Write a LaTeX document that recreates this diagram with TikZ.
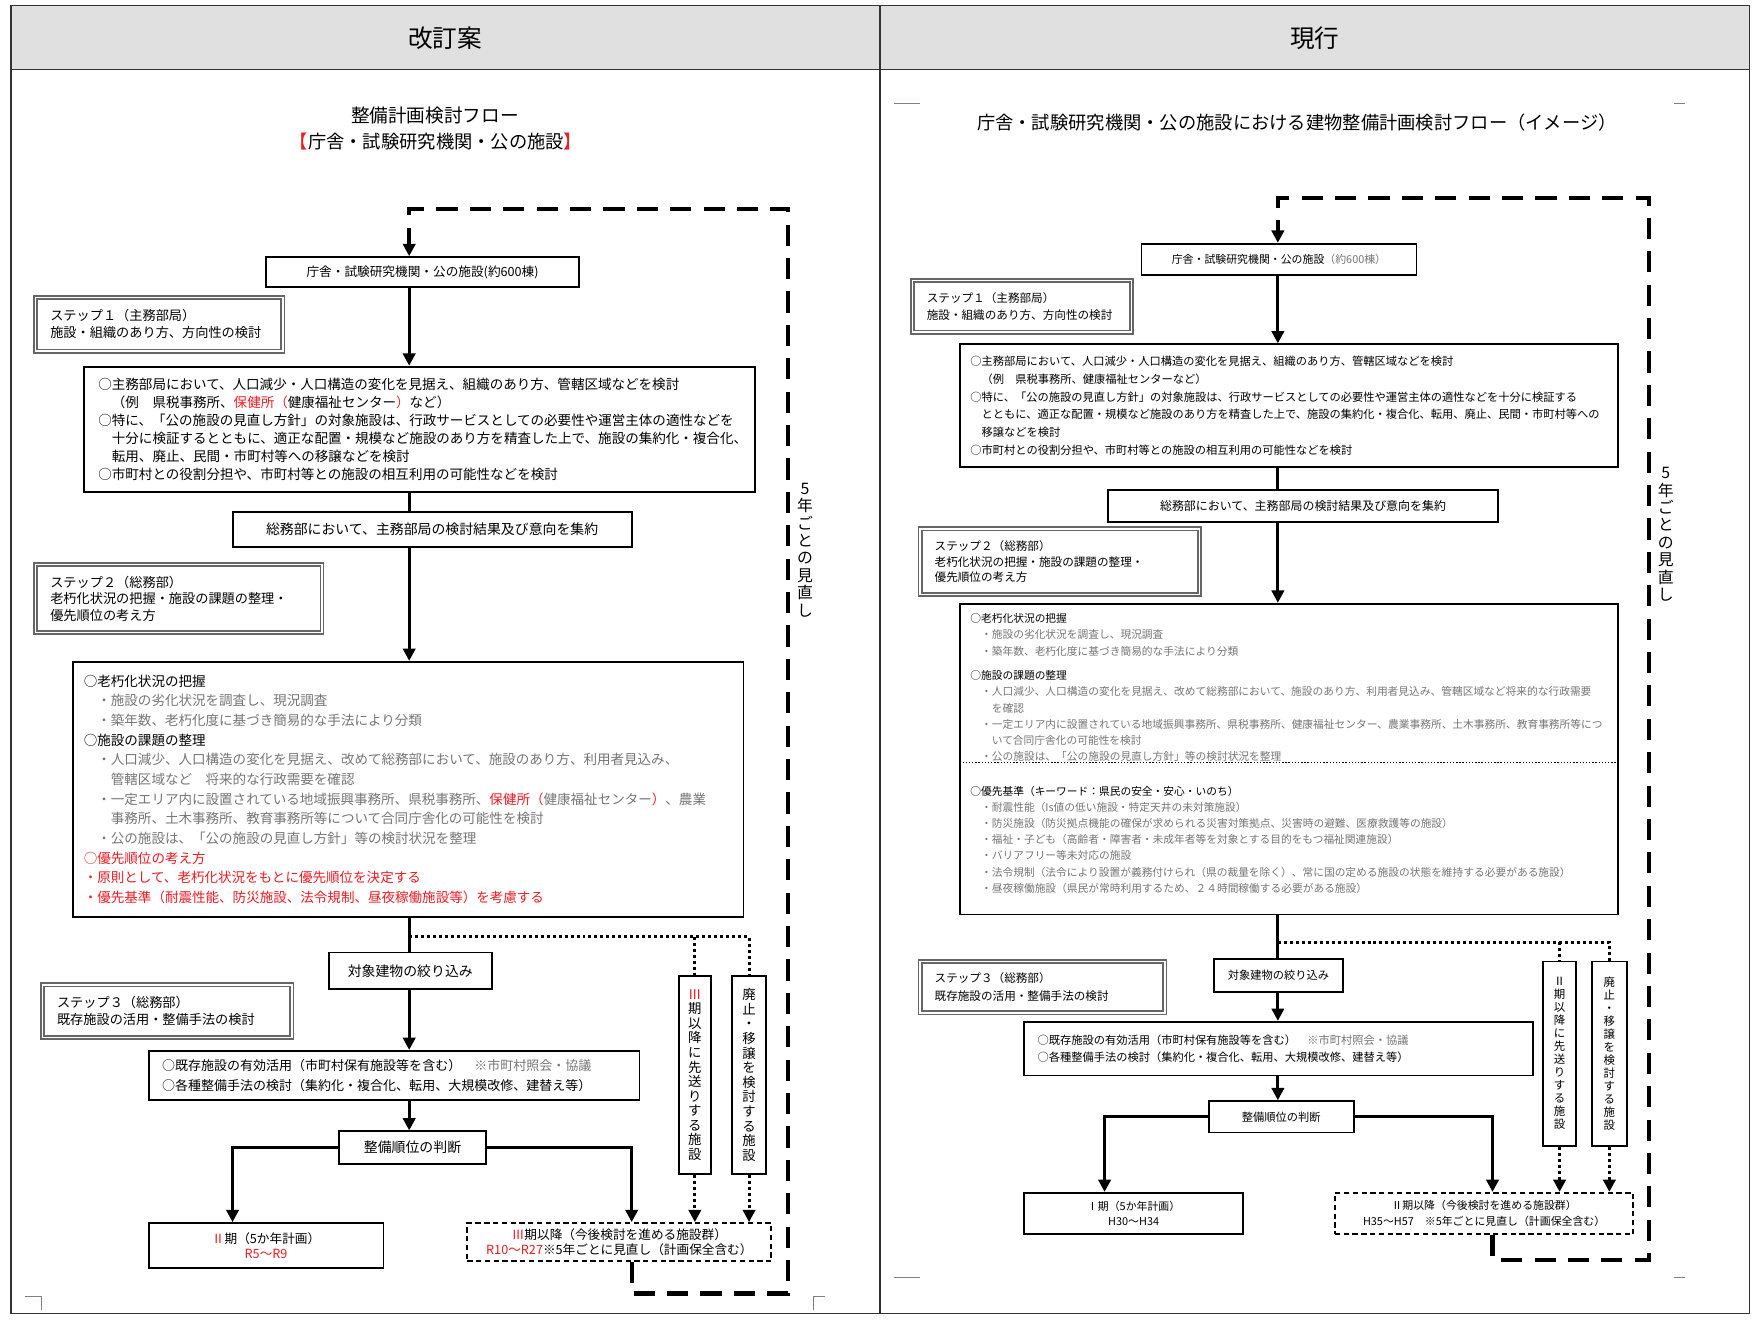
\documentclass[tikz,border=0pt]{standalone}
\usepackage{fontspec}
\setmainfont{Noto Sans CJK JP}
\usetikzlibrary{arrows.meta,positioning}
\definecolor{hdrgray}{RGB}{224,224,224}
\definecolor{txtgray}{RGB}{118,118,118}
\definecolor{redmark}{RGB}{236,28,36}
\newlength{\pxu}\setlength{\pxu}{0.02236cm}
\newcommand{\fsz}[2]{\fontsize{#1pt}{#2pt}\selectfont}
\newcommand{\rd}[1]{\textcolor{redmark}{#1}}
\newcommand{\gr}[1]{\textcolor{txtgray}{#1}}
\tikzstyle{box}=[draw,line width=1.1pt,inner sep=0pt,align=center]
\tikzstyle{textbox}=[box,align=left]
\tikzstyle{stepbox}=[draw=black!60,double=white,double distance=0.8pt,line width=1pt,inner ysep=0pt,inner xsep=13\pxu,align=left]
\tikzstyle{dashbox}=[box,dash pattern=on 3pt off 2pt]
\tikzstyle{conn}=[line width=1.7pt]
\tikzstyle{arrow}=[conn,-{Triangle[width=7pt,length=7pt]}]
\tikzstyle{loopline}=[line width=2.4pt,dash pattern=on 12pt off 7pt,-{Triangle[width=7pt,length=7pt]}]
\tikzstyle{dotline}=[line width=1.7pt,dash pattern=on 1.7pt off 1.7pt]
\tikzstyle{vlabel}=[align=center,font=\fsz{9}{9.9}]

\begin{document}
\begin{tikzpicture}[x=0.02236cm,y=-0.02236cm]
\useasboundingbox (0,0) rectangle (1568,1180);
\fill[white] (0,0) rectangle (1568,1180);
% table frame
\fill[hdrgray] (10,5) rectangle (1565,62);
\draw[line width=0.9pt,black!80] (10,5) rectangle (1565,1175) (10,62) -- (1565,62) (787,5) -- (787,1175);
\node (headL) [font=\fsz{14}{16}] at (398,34) {改訂案};
\node (headR) [font=\fsz{14}{16}] at (1176,34) {現行};
\draw[black!50,line width=0.6pt] (22,1160) -- (37,1160) -- (37,1172) (728,1172) -- (728,1160) -- (738,1160);
\draw[black!50,line width=0.6pt] (800,93) -- (823,93) (1497,93) -- (1507,93) (800,1143) -- (823,1143) (1497,1143) -- (1507,1143);

% ---- left: revised ----
\node (titL1) [font=\fsz{10.6}{12}] at (389,103) {整備計画検討フロー};
\node (titL2) [font=\fsz{10.4}{12}] at (390,127) {\rd{【}庁舎・試験研究機関・公の施設\rd{】}};
\coordinate (tL) at (366,0);
\node (aL) [box,minimum width=280\pxu,minimum height=27\pxu,font=\fsz{7.2}{9}] at (378,243.5) {庁舎・試験研究機関・公の施設(約600棟)};
\node (s1L) [stepbox,text width=195\pxu,minimum height=48\pxu,font=\fsz{7.5}{9.5}] at (142.5,290) {ステップ１（主務部局）\\施設・組織のあり方、方向性の検討};
\node (bL) [textbox,text width=574\pxu,inner xsep=13\pxu,minimum height=112\pxu,font=\fsz{7.7}{10.3}] at (375,384) {○主務部局において、人口減少・人口構造の変化を見据え、組織のあり方、管轄区域などを検討\\
　（例　県税事務所、\rd{保健所（}健康福祉センター\rd{）}など）\\
○特に、「公の施設の見直し方針」の対象施設は、行政サービスとしての必要性や運営主体の適性などを\\
　十分に検証するとともに、適正な配置・規模など施設のあり方を精査した上で、施設の集約化・複合化、\\
　転用、廃止、民間・市町村等への移譲などを検討\\
○市町村との役割分担や、市町村等との施設の相互利用の可能性などを検討};
\node (cL) [box,minimum width=357\pxu,minimum height=31\pxu,font=\fsz{7.9}{10}] at (386.5,473.5) {総務部において、主務部局の検討結果及び意向を集約};
\node (s2L) [stepbox,text width=230\pxu,minimum height=61\pxu,font=\fsz{7.5}{9.5}] at (160,535.5) {ステップ２（総務部）\\老朽化状況の把握・施設の課題の整理・\\優先順位の考え方};
\node (dL) [textbox,text width=580\pxu,inner xsep=10\pxu,minimum height=228\pxu,font=\fsz{7.7}{11.2}] at (365,706) {○老朽化状況の把握\\
\gr{　・施設の劣化状況を調査し、現況調査}\\
\gr{　・築年数、老朽化度に基づき簡易的な手法により分類}\\
○施設の課題の整理\\
\gr{　・人口減少、人口構造の変化を見据え、改めて総務部において、施設のあり方、利用者見込み、}\\
\gr{　　管轄区域など　将来的な行政需要を確認}\\
\gr{　・一定エリア内に設置されている地域振興事務所、県税事務所、}\rd{保健所（}\gr{健康福祉センター}\rd{）}\gr{、農業}\\
\gr{　　事務所、土木事務所、教育事務所等について合同庁舎化の可能性を検討}\\
\gr{　・公の施設は、「公の施設の見直し方針」等の検討状況を整理}\\
\rd{○優先順位の考え方}\\
\rd{・原則として、老朽化状況をもとに優先順位を決定する}\\
\rd{・優先基準（耐震性能、防災施設、法令規制、昼夜稼働施設等）を考慮する}};
\node (eL) [box,minimum width=146\pxu,minimum height=33\pxu,font=\fsz{7.9}{10}] at (367,868.5) {対象建物の絞り込み};
\node (s3L) [stepbox,text width=197\pxu,minimum height=47\pxu,font=\fsz{7.5}{9.5}] at (149.5,904.5) {ステップ３（総務部）\\既存施設の活用・整備手法の検討};
\node (fL) [textbox,text width=415\pxu,inner xsep=12\pxu,minimum height=44\pxu,font=\fsz{7.4}{11.4}] at (352.5,962) {○既存施設の有効活用（市町村保有施設等を含む）　\gr{※市町村照会・協議}\\
○各種整備手法の検討（集約化・複合化、転用、大規模改修、建替え等）};
\node (gL) [box,minimum width=132\pxu,minimum height=29\pxu,font=\fsz{7.9}{10}] at (369,1026.5) {整備順位の判断};
\node (hL) [box,minimum width=210\pxu,minimum height=40\pxu,font=\fsz{7.2}{8.4}] at (238,1114) {\rd{Ⅱ}期（5か年計画）\\\rd{R5～R9}};
\node (iL) [dashbox,minimum width=272\pxu,minimum height=34\pxu,font=\fsz{7.2}{8.9}] at (554,1111) {\rd{Ⅲ}期以降（今後検討を進める施設群）\\\rd{R10～R27}※5年ごとに見直し（計画保全含む）};
\node (j1L) [box,minimum width=29\pxu,minimum height=177\pxu,font=\fsz{7.6}{8.3}] at (621.5,961.5) {\rd{Ⅲ}\\期\\以\\降\\に\\先\\送\\り\\す\\る\\施\\設};
\node (j2L) [box,minimum width=30\pxu,minimum height=177\pxu,font=\fsz{7.6}{8.3}] at (670,961.5) {廃\\止\\・\\移\\譲\\を\\検\\討\\す\\る\\施\\設};
\node (vL) [vlabel] at (720,492) {5\\年\\ご\\と\\の\\見\\直\\し};

\coordinate (lpL1) at (565,1157);
\coordinate (lpL2) at (705,187);
\coordinate (dvL) at (366,838);
\coordinate (hLx) at (208,0);
\draw[loopline] (iL.south -| lpL1) -- (lpL1) -| (lpL2) -| (aL.north -| tL);
\draw[arrow] (aL.south -| tL) -- (bL.north -| tL);
\draw[conn] (bL.south -| tL) -- (cL.north -| tL);
\draw[arrow] (cL.south -| tL) -- (dL.north -| tL);
\draw[conn] (dL.south -| tL) -- (eL.north -| tL);
\draw[arrow] (eL.south -| tL) -- (fL.north -| tL);
\draw[arrow] (fL.south -| tL) -- (gL.north -| tL);
\draw[arrow] (gL.west) -| (hLx |- hL.north);
\draw[arrow] (gL.east) -| (lpL1 |- iL.north);
\draw[dotline] (dvL) -| (j2L.north);
\draw[dotline] (dvL -| j1L.north) -- (j1L.north);
\draw[dotline,-{Triangle[width=7pt,length=7pt]}] (j1L.south) -- (j1L.south |- iL.north);
\draw[dotline,-{Triangle[width=7pt,length=7pt]}] (j2L.south) -- (j2L.south |- iL.north);

% ---- right: current ----
\node (titR) [font=\fsz{10.4}{12}] at (1160,110) {庁舎・試験研究機関・公の施設における建物整備計画検討フロー（イメージ）};
\coordinate (tR) at (1143,0);
\node (aR) [box,minimum width=246\pxu,minimum height=28\pxu,font=\fsz{6.2}{8}] at (1144,232) {庁舎・試験研究機関・公の施設\gr{（約600棟）}};
\node (s1R) [stepbox,text width=170\pxu,minimum height=46\pxu,font=\fsz{6.6}{9.5}] at (914,274) {ステップ１（主務部局）\\施設・組織のあり方、方向性の検討};
\node (bR) [textbox,text width=570\pxu,inner xsep=9\pxu,minimum height=110\pxu,font=\fsz{6.4}{10.1}] at (1153,363) {○主務部局において、人口減少・人口構造の変化を見据え、組織のあり方、管轄区域などを検討\\
　（例　県税事務所、健康福祉センターなど）\\
○特に、「公の施設の見直し方針」の対象施設は、行政サービスとしての必要性や運営主体の適性などを十分に検証する\\
　とともに、適正な配置・規模など施設のあり方を精査した上で、施設の集約化・複合化、転用、廃止、民間・市町村等への\\
　移譲などを検討\\
○市町村との役割分担や、市町村等との施設の相互利用の可能性などを検討};
\node (cR) [box,minimum width=349\pxu,minimum height=29\pxu,font=\fsz{6.8}{9}] at (1165.5,452.5) {総務部において、主務部局の検討結果及び意向を集約};
\node (s2R) [stepbox,text width=224\pxu,minimum height=59\pxu,font=\fsz{6.6}{8.9}] at (948,502.5) {ステップ２（総務部）\\老朽化状況の把握・施設の課題の整理・\\優先順位の考え方};
\node (dR) [textbox,text width=570\pxu,inner xsep=9\pxu,minimum height=278\pxu,font=\fsz{6.1}{9.2}] at (1153,679) {○老朽化状況の把握\\
\gr{　・施設の劣化状況を調査し、現況調査}\\
\gr{　・築年数、老朽化度に基づき簡易的な手法により分類}\\[4.8pt]
○施設の課題の整理\\
\gr{　・人口減少、人口構造の変化を見据え、改めて総務部において、施設のあり方、利用者見込み、管轄区域など将来的な行政需要}\\
\gr{　　を確認}\\
\gr{　・一定エリア内に設置されている地域振興事務所、県税事務所、健康福祉センター、農業事務所、土木事務所、教育事務所等につ}\\
\gr{　　いて合同庁舎化の可能性を検討}\\
\gr{　・公の施設は、「公の施設の見直し方針」等の検討状況を整理}\\[10.5pt]
○優先基準（キーワード：県民の安全・安心・いのち）\\
\gr{　・耐震性能（Is値の低い施設・特定天井の未対策施設）}\\
\gr{　・防災施設（防災拠点機能の確保が求められる災害対策拠点、災害時の避難、医療救護等の施設）}\\
\gr{　・福祉・子ども（高齢者・障害者・未成年者等を対象とする目的をもつ福祉関連施設）}\\
\gr{　・バリアフリー等未対応の施設}\\
\gr{　・法令規制（法令により設置が義務付けられ（県の裁量を除く）、常に国の定める施設の状態を維持する必要がある施設）}\\
\gr{　・昼夜稼働施設（県民が常時利用するため、２４時間稼働する必要がある施設）}\rule[-7pt]{0pt}{0pt}};
\coordinate (dRcut) at (1153,682);
\draw[line width=0.7pt,dash pattern=on 0.8pt off 1pt] (dRcut -| dR.west) -- (dRcut -| dR.east);
\node (eR) [box,minimum width=115\pxu,minimum height=29\pxu,font=\fsz{6.4}{8}] at (1143.5,872.5) {対象建物の絞り込み};
\node (s3R) [stepbox,text width=193\pxu,minimum height=46\pxu,font=\fsz{6.6}{10}] at (932.5,883) {ステップ３（総務部）\\既存施設の活用・整備手法の検討};
\node (fR) [textbox,text width=431\pxu,inner xsep=12\pxu,minimum height=48\pxu,font=\fsz{6.4}{10.1}] at (1143.5,938) {○既存施設の有効活用（市町村保有施設等を含む）　\gr{※市町村照会・協議}\\
○各種整備手法の検討（集約化・複合化、転用、大規模改修、建替え等）};
\node (gR) [box,minimum width=130\pxu,minimum height=28\pxu,font=\fsz{6.4}{8}] at (1146,999) {整備順位の判断};
\node (hR) [box,minimum width=196\pxu,minimum height=37\pxu,font=\fsz{6.2}{8.9}] at (1014,1085.5) {Ⅰ期（5か年計画）\\H30～H34};
\node (iR) [dashbox,minimum width=267\pxu,minimum height=37\pxu,font=\fsz{6.2}{8.9}] at (1327.5,1085.5) {Ⅱ期以降（今後検討を進める施設群）\\H35～H57　※5年ごとに見直し（計画保全含む）};
\node (j1R) [box,minimum width=30\pxu,minimum height=165\pxu,font=\fsz{6.5}{7.4}] at (1395,942.5) {Ⅱ\\期\\以\\降\\に\\先\\送\\り\\す\\る\\施\\設};
\node (j2R) [box,minimum width=31\pxu,minimum height=165\pxu,font=\fsz{6.5}{7.4}] at (1439.5,942.5) {廃\\止\\・\\移\\譲\\を\\検\\討\\す\\る\\施\\設};
\node (vR) [vlabel] at (1490,478) {5\\年\\ご\\と\\の\\見\\直\\し};

\coordinate (lpR1) at (1335,1127);
\coordinate (lpR2) at (1475,177);
\coordinate (dvR) at (1143,843);
\coordinate (hRx) at (988,0);
\draw[loopline] (iR.south -| lpR1) -- (lpR1) -| (lpR2) -| (aR.north -| tR);
\draw[arrow] (aR.south -| tR) -- (bR.north -| tR);
\draw[conn] (bR.south -| tR) -- (cR.north -| tR);
\draw[arrow] (cR.south -| tR) -- (dR.north -| tR);
\draw[conn] (dR.south -| tR) -- (eR.north -| tR);
\draw[arrow] (eR.south -| tR) -- (fR.north -| tR);
\draw[arrow] (fR.south -| tR) -- (gR.north -| tR);
\draw[arrow] (gR.west) -| (hRx |- hR.north);
\draw[arrow] (gR.east) -| (lpR1 |- iR.north);
\draw[dotline] (dvR) -| (j2R.north);
\draw[dotline] (dvR -| j1R.north) -- (j1R.north);
\draw[dotline,-{Triangle[width=7pt,length=7pt]}] (j1R.south) -- (j1R.south |- iR.north);
\draw[dotline,-{Triangle[width=7pt,length=7pt]}] (j2R.south) -- (j2R.south |- iR.north);
\end{tikzpicture}
\end{document}
